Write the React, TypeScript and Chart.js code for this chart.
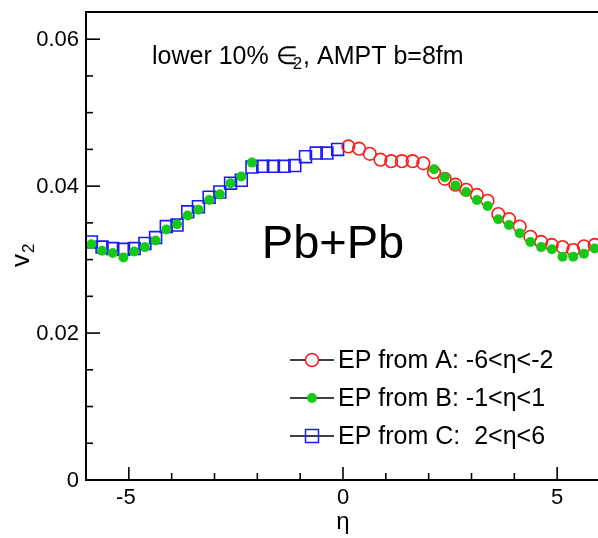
import React, { useEffect, useRef } from "react";
import { Chart, registerables } from "chart.js";
Chart.register(...registerables);

// η bin centres and v2 values
const etaC = [-5.875, -5.625, -5.375, -5.125, -4.875, -4.625, -4.375, -4.125, -3.875, -3.625, -3.375, -3.125, -2.875, -2.625, -2.375, -2.125, -1.875, -1.625, -1.375, -1.125, -0.875, -0.625, -0.375, -0.125];
const v2C = [0.0324, 0.0317, 0.0315, 0.0314, 0.0315, 0.0322, 0.0330, 0.0345, 0.0347, 0.0365, 0.0372, 0.0385, 0.0392, 0.0404, 0.0408, 0.0426, 0.0427, 0.0427, 0.0427, 0.0428, 0.0440, 0.0445, 0.0445, 0.0450];

const etaB = [-5.875, -5.625, -5.375, -5.125, -4.875, -4.625, -4.375, -4.125, -3.875, -3.625, -3.375, -3.125, -2.875, -2.625, -2.375, -2.125, 2.125, 2.375, 2.625, 2.875, 3.125, 3.375, 3.625, 3.875, 4.125, 4.375, 4.625, 4.875, 5.125, 5.375, 5.625, 5.875];
const v2B = [0.0321, 0.0312, 0.0309, 0.0303, 0.0311, 0.0317, 0.0326, 0.0341, 0.0348, 0.0360, 0.0368, 0.0381, 0.0389, 0.0404, 0.0413, 0.0432, 0.0423, 0.0412, 0.0401, 0.0392, 0.0381, 0.0373, 0.0355, 0.0347, 0.0336, 0.0324, 0.0317, 0.0314, 0.0304, 0.0304, 0.0308, 0.0315];

const etaA = [0.125, 0.375, 0.625, 0.875, 1.125, 1.375, 1.625, 1.875, 2.125, 2.375, 2.625, 2.875, 3.125, 3.375, 3.625, 3.875, 4.125, 4.375, 4.625, 4.875, 5.125, 5.375, 5.625, 5.875];
const v2A = [0.0454, 0.0451, 0.0444, 0.0436, 0.0434, 0.0434, 0.0434, 0.0431, 0.0419, 0.0410, 0.0402, 0.0395, 0.0388, 0.0380, 0.0362, 0.0355, 0.0345, 0.0331, 0.0324, 0.0320, 0.0317, 0.0313, 0.0318, 0.0320];

const xMajorTicks = [-5, 0, 5];
const xMinorTicks = [-6, -4, -3, -2, -1, 1, 2, 3, 4, 6];
const yMajorTicks = [0, 0.02, 0.04, 0.06];
const yMinorTicks = [0.005, 0.01, 0.015, 0.025, 0.03, 0.035, 0.045, 0.05, 0.055];
const yTickLabels = ["0", "0.02", "0.04", "0.06"];
const xTickLabels = ["-5", "0", "5"];
const legendLabels = ["EP from A: -6<\u03b7<-2", "EP from B: -1<\u03b7<1", "EP from C:  2<\u03b7<6"];

const RED = "#ff1a1a";
const GREEN = "#16c916";
const BLUE = "#1a1aff";
const FONT = '"Liberation Sans", Arial, sans-serif';

const pts = (xs: number[], ys: number[]) => xs.map((x, i) => ({ x, y: ys[i] }));

const decor = {
  id: "decor",
  afterDraw(chart: any) {
    const { ctx, chartArea: a, scales } = chart;
    const sx = scales.x, sy = scales.y;
    ctx.save();
    ctx.strokeStyle = "#000";
    ctx.fillStyle = "#000";
    ctx.lineWidth = 2;
    ctx.strokeRect(a.left, a.top, a.right - a.left, a.bottom - a.top);
    const line = (x1: number, y1: number, x2: number, y2: number) => {
      ctx.beginPath(); ctx.moveTo(x1, y1); ctx.lineTo(x2, y2); ctx.stroke();
    };
    ctx.lineWidth = 1.6;
    yMinorTicks.forEach((v) => { const p = sy.getPixelForValue(v); line(a.left, p, a.left + 7, p); });
    yMajorTicks.forEach((v) => { const p = sy.getPixelForValue(v); line(a.left, p, a.left + 14, p); });
    xMinorTicks.forEach((v) => { const p = sx.getPixelForValue(v); line(p, a.bottom, p, a.bottom - 7); });
    xMajorTicks.forEach((v) => { const p = sx.getPixelForValue(v); line(p, a.bottom, p, a.bottom - 13); });

    ctx.font = `22px ${FONT}`;
    ctx.textAlign = "right";
    ctx.textBaseline = "middle";
    yMajorTicks.forEach((v, i) => ctx.fillText(yTickLabels[i], a.left - 7, sy.getPixelForValue(v) + 1));
    ctx.textAlign = "center";
    ctx.textBaseline = "top";
    xMajorTicks.forEach((v, i) => ctx.fillText(xTickLabels[i], sx.getPixelForValue(v) - (xTickLabels[i].startsWith("-") ? 3 : 0), a.bottom + 7));

    // x title
    ctx.font = `24px ${FONT}`;
    ctx.textBaseline = "middle";
    ctx.fillText("\u03b7", sx.getPixelForValue(0), 522);

    // y title v2
    ctx.save();
    ctx.translate(29, 267);
    ctx.rotate(-Math.PI / 2);
    ctx.textAlign = "left";
    ctx.textBaseline = "alphabetic";
    ctx.font = `26px ${FONT}`;
    ctx.fillText("v", 0, 0);
    const vw = ctx.measureText("v").width;
    ctx.font = `17px ${FONT}`;
    ctx.fillText("2", vw + 1, 5);
    ctx.restore();

    // top annotation
    ctx.textAlign = "left";
    ctx.textBaseline = "alphabetic";
    ctx.font = `25px ${FONT}`;
    let tx = 152;
    const ty = 64;
    const p1 = "lower 10% ";
    ctx.fillText(p1, tx, ty); tx += ctx.measureText(p1).width;
    ctx.fillText("\u2208", tx, ty); tx += ctx.measureText("\u2208").width;
    ctx.font = `17px ${FONT}`;
    ctx.fillText("2", tx - 5, ty + 5); tx += ctx.measureText("2").width - 4;
    ctx.font = `25px ${FONT}`;
    ctx.fillText(", AMPT b=8fm", tx, ty);

    // Pb+Pb
    ctx.font = `47px ${FONT}`;
    ctx.textAlign = "center";
    ctx.textBaseline = "middle";
    ctx.fillText("Pb+Pb", 333, 245);

    // legend
    const rows = [360, 398, 436];
    ctx.font = `25px ${FONT}`;
    ctx.textAlign = "left";
    rows.forEach((ry, i) => {
      ctx.strokeStyle = "#000";
      ctx.lineWidth = 1.5;
      line(290, ry, 334, ry);
      if (i === 0) {
        ctx.fillStyle = "#fff";
        ctx.strokeStyle = RED;
        ctx.beginPath(); ctx.arc(312, ry, 6.5, 0, Math.PI * 2); ctx.fill(); ctx.stroke();
      } else if (i === 1) {
        ctx.fillStyle = GREEN;
        ctx.beginPath(); ctx.arc(312, ry, 5, 0, Math.PI * 2); ctx.fill();
      } else {
        ctx.strokeStyle = BLUE;
        ctx.strokeRect(312 - 6.5, ry - 6.5, 13, 13);
      }
      ctx.fillStyle = "#000";
      ctx.fillText(legendLabels[i], 338, ry + 1);
    });
    ctx.restore();
  },
};

export default function App() {
  const ref = useRef<HTMLCanvasElement>(null);
  useEffect(() => {
    if (!ref.current) return;
    const chart = new Chart(ref.current, {
      type: "scatter",
      data: {
        datasets: [
          { label: "B", data: pts(etaB, v2B), pointStyle: "circle", pointRadius: 5, pointBackgroundColor: GREEN, pointBorderColor: GREEN, pointBorderWidth: 0, showLine: false },
          { label: "A", data: pts(etaA, v2A), pointStyle: "circle", pointRadius: 6.3, pointBackgroundColor: "rgba(0,0,0,0)", pointBorderColor: RED, pointBorderWidth: 1.6, showLine: false },
          { label: "C", data: pts(etaC, v2C), pointStyle: "rect", pointRadius: 8.4, pointBackgroundColor: "rgba(0,0,0,0)", pointBorderColor: BLUE, pointBorderWidth: 1.6, showLine: false },
        ],
      },
      options: {
        animation: false,
        responsive: false,
        devicePixelRatio: 1,
        layout: { padding: { left: 86, top: 12, right: 5.6, bottom: 58 } },
        plugins: { legend: { display: false }, tooltip: { enabled: false } },
        scales: {
          x: { type: "linear", min: -6, max: 6, display: false },
          y: { type: "linear", min: 0, max: 0.0637, display: false },
        },
      },
      plugins: [decor],
    });
    return () => chart.destroy();
  }, []);
  return (
    <div style={{ position: "fixed", left: 0, top: 0, width: 598, height: 538, overflow: "hidden", background: "#fff" }}>
      <canvas ref={ref} width={610} height={538} style={{ display: "block" }} />
    </div>
  );
}
